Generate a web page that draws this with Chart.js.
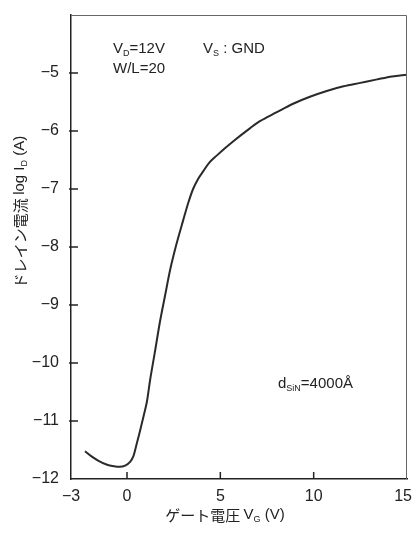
<!DOCTYPE html>
<html>
<head>
<meta charset="utf-8">
<script src="https://cdn.jsdelivr.net/npm/chart.js@4"></script>
<style>
  html, body { margin: 0; padding: 0; background: #fff; }
  #wrap { width: 414px; height: 535px; }
</style>
</head>
<body>
<div id="wrap"><canvas id="myChart" width="414" height="535"></canvas></div>
<script>
// gate voltage (V) and log drain current
const vg = [-2.25, -1.9, -1.5, -1.1, -0.7, -0.4, -0.1, 0.15, 0.35, 0.5, 0.7, 0.9, 1.07, 1.23, 1.5, 1.77,
    2.05, 2.3, 2.65, 3.0, 3.3, 3.54, 3.8, 4.07, 4.4, 4.82, 5.2, 5.68, 6.6, 7.12, 8.0, 8.9, 9.8, 10.7,
    11.6, 12.5, 13.4, 14.2, 15.0];
const logId = [-11.52, -11.61, -11.69, -11.75, -11.78, -11.79, -11.77, -11.71, -11.6, -11.42, -11.17,
    -10.9, -10.66, -10.31, -9.8, -9.28, -8.82, -8.41, -7.95, -7.55, -7.22, -7.0, -6.83, -6.70, -6.55,
    -6.42, -6.31, -6.18, -5.95, -5.83, -5.68, -5.53, -5.41, -5.31, -5.23, -5.17, -5.11, -5.06, -5.03];

const xTicks = [-3, 0, 5, 10, 15];
const yTicks = [-12, -11, -10, -9, -8, -7, -6, -5];

const ink = '#222';
const latin = '"Liberation Sans", Arial, sans-serif';
const jp = '"Noto Sans CJK JP", sans-serif';

function minus(v) {
    return v < 0 ? '\u2212' + Math.abs(v) : String(v);
}

// draw text made of pieces, some of them subscripts
function richText(ctx, parts, x, y, size) {
    let w = 0;
    parts.forEach(p => {
        ctx.font = (p.sub ? size * 0.6 : size) + 'px ' + (p.jp ? jp : latin);
        w += ctx.measureText(p.t).width;
    });
    let cx = x - w / 2;
    parts.forEach(p => {
        ctx.font = (p.sub ? size * 0.6 : size) + 'px ' + (p.jp ? jp : latin);
        ctx.fillText(p.t, cx, p.sub ? y + size * 0.3 : y);
        cx += ctx.measureText(p.t).width;
    });
}

function richLeft(ctx, parts, x, y, size) {
    let w = 0;
    parts.forEach(p => {
        ctx.font = (p.sub ? size * 0.6 : size) + 'px ' + latin;
        w += ctx.measureText(p.t).width;
    });
    richText(ctx, parts, x + w / 2, y, size);
}

const notes = [
    {x: -0.75, y: -4.59, parts: [{t: 'V'}, {t: 'D', sub: true}, {t: '=12V'}]},
    {x: 4.07, y: -4.59, parts: [{t: 'V'}, {t: 'S', sub: true}, {t: ' : GND'}]},
    {x: -0.75, y: -4.93, parts: [{t: 'W/L=20'}]},
    {x: 8.09, y: -10.36, parts: [{t: 'd'}, {t: 'SiN', sub: true}, {t: '=4000\u00C5'}]},
];

const decor = {
    id: 'decor',
    afterDraw(chart) {
        const ctx = chart.ctx;
        const a = chart.chartArea;
        const xs = chart.scales.x, ys = chart.scales.y;
        ctx.save();
        // top and right frame
        ctx.strokeStyle = '#666';
        ctx.lineWidth = 1;
        ctx.beginPath();
        ctx.moveTo(a.left, a.top + 0.5);
        ctx.lineTo(a.right - 0.5, a.top + 0.5);
        ctx.lineTo(a.right - 0.5, a.bottom);
        ctx.stroke();
        // inward tick marks
        ctx.strokeStyle = ink;
        ctx.lineWidth = 1.5;
        ctx.beginPath();
        yTicks.forEach(v => {
            if (v === -12) return;
            const py = ys.getPixelForValue(v);
            ctx.moveTo(a.left - 2, py);
            ctx.lineTo(a.left + 7, py);
        });
        xTicks.forEach(v => {
            if (v === -3 || v === 15) return;
            const px = xs.getPixelForValue(v);
            ctx.moveTo(px, a.bottom);
            ctx.lineTo(px, a.bottom - 7);
        });
        ctx.stroke();
        ctx.fillStyle = ink;
        // x tick labels, the last one kept inside the canvas
        ctx.font = '16px ' + latin;
        ctx.textAlign = 'center';
        ctx.textBaseline = 'middle';
        xTicks.forEach(v => {
            const s = minus(v);
            const w = ctx.measureText(s).width;
            const px = Math.min(xs.getPixelForValue(v), chart.width - w / 2 - 2);
            ctx.fillText(s, px, a.bottom + 18);
        });
        ctx.textAlign = 'left';
        // notes inside the plot
        notes.forEach(n => {
            richLeft(ctx, n.parts, xs.getPixelForValue(n.x), ys.getPixelForValue(n.y), 15);
        });
        // axis titles
        richText(ctx, [{t: 'ゲート電圧 ', jp: true}, {t: 'V'}, {t: 'G', sub: true}, {t: ' (V)'}], 225, 515, 15);
        ctx.translate(20, 212);
        ctx.rotate(-Math.PI / 2);
        richText(ctx, [{t: 'ドレイン電流 ', jp: true}, {t: 'log I'}, {t: 'D', sub: true}, {t: ' (A)'}], 0, 0, 15);
        ctx.restore();
    }
};

let myChart = document.getElementById('myChart').getContext('2d');

let idChart = new Chart(myChart, {
    type: 'line',
    data: {
        datasets: [{
            data: vg.map((v, i) => ({x: v, y: logId[i]})),
            borderColor: '#2a2a2a',
            borderWidth: 2,
            pointRadius: 0,
            cubicInterpolationMode: 'monotone',
            fill: false,
        }]
    },
    options: {
        responsive: false,
        animation: false,
        layout: {
            padding: {top: 15, right: 7, left: 0, bottom: 0}
        },
        plugins: {
            legend: {display: false},
            tooltip: {enabled: false},
        },
        scales: {
            x: {
                type: 'linear',
                min: -3,
                max: 15,
                afterBuildTicks: s => { s.ticks = xTicks.map(v => ({value: v})); },
                afterFit: s => { s.height = 56; s.paddingLeft = 0; s.paddingRight = 0; },
                grid: {display: false},
                border: {display: true, color: ink, width: 1.5},
                ticks: {display: false},
            },
            y: {
                type: 'linear',
                min: -12,
                max: -4,
                afterBuildTicks: s => { s.ticks = yTicks.map(v => ({value: v})); },
                afterFit: s => { s.width = 71; s.paddingTop = 0; s.paddingBottom = 0; },
                grid: {display: false},
                border: {display: true, color: ink, width: 1.5},
                ticks: {
                    color: ink,
                    padding: 4,
                    font: {family: latin, size: 16},
                    callback: v => minus(v),
                },
            },
        }
    },
    plugins: [decor]
});
</script>
</body>
</html>
